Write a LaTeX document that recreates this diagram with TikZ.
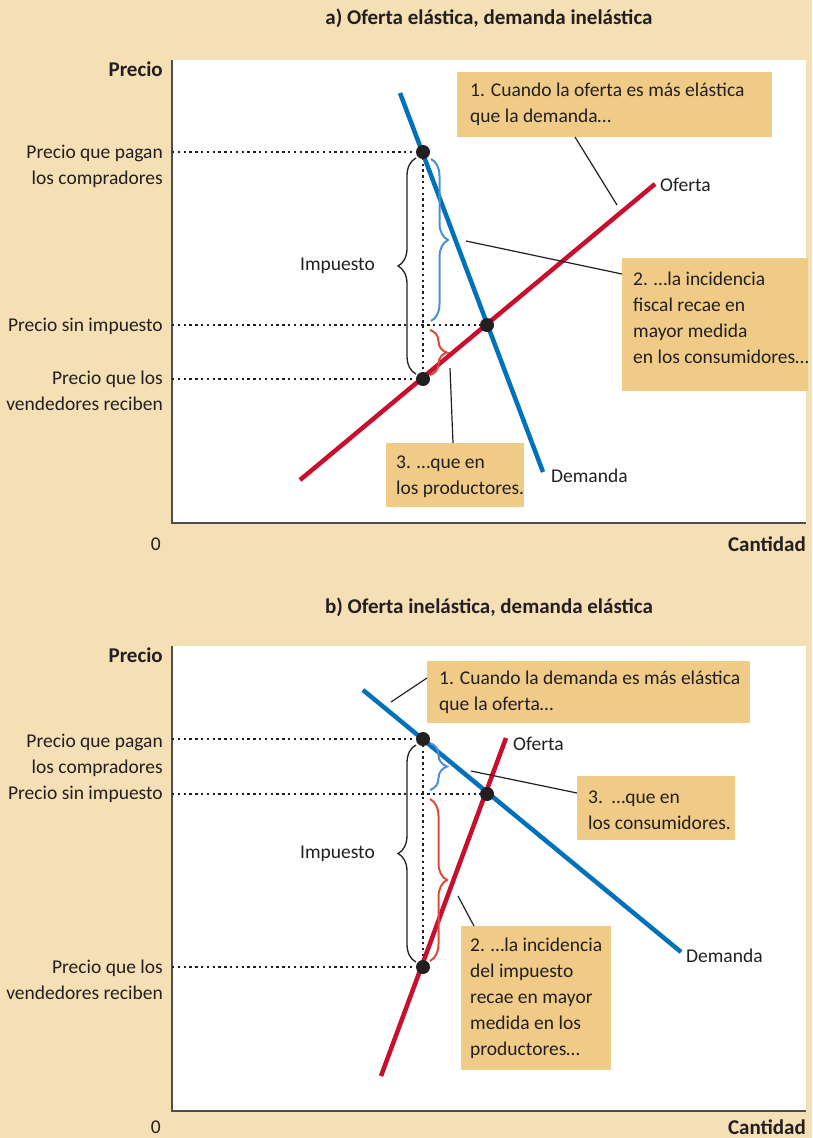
\documentclass[tikz,border=0pt]{standalone}
\usepackage{fontspec}
\setmainfont{Carlito}
\usetikzlibrary{decorations.pathreplacing}
\definecolor{bg}{HTML}{F5DFB5}
\definecolor{boxc}{HTML}{EFCB87}
\definecolor{dblue}{HTML}{0072BC}
\definecolor{dred}{HTML}{C8102E}
\definecolor{lblue}{HTML}{4D8FD1}
\definecolor{lred}{HTML}{DB4B3A}
\definecolor{txt}{HTML}{231F20}
\definecolor{axc}{HTML}{4D4D4D}
\begin{document}
\begin{tikzpicture}[x=1pt,y=-1pt,
  lbl/.style={font=\fontsize{19.5}{26}\selectfont, text=txt, inner sep=0pt},
  ttl/.style={font=\fontsize{21}{24}\selectfont\bfseries, text=txt, inner sep=0pt},
  boxs/.style={fill=boxc, draw=none, inner sep=0pt, anchor=north west},
  axis/.style={draw=axc, line width=2pt},
  dots/.style={line width=2.4pt, dash pattern=on 2.4pt off 3.4pt, txt},
  dem/.style={dblue, line width=4.5pt},
  sup/.style={dred, line width=4.5pt},
  leader/.style={txt, line width=1.2pt},
  bigbrace/.style={decorate, decoration={brace, amplitude=18pt}, txt, line width=1.3pt},
  bbrace/.style={decorate, decoration={brace, amplitude=17pt}, lblue, line width=2pt},
  rbrace/.style={decorate, decoration={brace, amplitude=17pt}, lred, line width=2pt},
  dot/.style={circle, fill=txt, inner sep=0pt, minimum size=14pt}
]
\fill[bg] (0,0) rectangle (812,1138);
\useasboundingbox (0,0) rectangle (812,1138);

% ================= Panel a =================
\node[ttl] (ta) at (489,18) {a) Oferta elástica, demanda inelástica};
\fill[white] (172,60) rectangle (806,523);
\coordinate (oa) at (172,523);
\coordinate (ya) at (172,60);
\coordinate (xa) at (806,523);
\draw[axis] (ya) -- (oa) -- (xa);
\node[ttl, anchor=east] (pa) at (163,69) {Precio};
\node[lbl, anchor=east] (za) at (161,544) {0};
\node[ttl, anchor=east] (ca) at (806,544) {Cantidad};

\coordinate (Ea1) at (423,152);
\coordinate (Ea2) at (487,325);
\coordinate (Ea3) at (423,379);
\coordinate (ha1) at (172,152);
\coordinate (ha2) at (172,325);
\coordinate (ha3) at (172,379);
\draw[dots] (ha1) -- (Ea1);
\draw[dots] (ha2) -- (Ea2);
\draw[dots] (ha3) -- (Ea3);
\draw[dots] (Ea1) -- (Ea3);

\node[lbl, anchor=east, align=right] (la1) at (163,166.5) {Precio que pagan\\los compradores};
\node[lbl, anchor=east] (la2) at (163,326) {Precio sin impuesto};
\node[lbl, anchor=east, align=right] (la3) at (163,391) {Precio que los\\vendedores reciben};

\coordinate (Da1) at (400,93);
\coordinate (Da2) at (543,472);
\coordinate (Sa1) at (300,480);
\coordinate (Sa2) at (655,184);
\draw[dem] (Da1) -- (Da2);
\draw[sup] (Sa1) -- (Sa2);
\node[dot] at (Ea1) {};
\node[dot] at (Ea2) {};
\node[dot] at (Ea3) {};

\coordinate (bka) at (416,374);
\coordinate (bkb) at (416,158);
\draw[bigbrace] (bka) -- (bkb);
\node[lbl, anchor=east] (ia) at (375,266) {Impuesto};
\coordinate (bba) at (431,159);
\coordinate (bbb) at (431,321);
\draw[bbrace] (bba) -- (bbb);
\coordinate (rba) at (430,330);
\coordinate (rbb) at (430,375);
\draw[rbrace] (rba) -- (rbb);

\node[lbl, anchor=west] (ofa) at (660,185) {Oferta};
\node[lbl, anchor=west] (dea) at (551,476) {Demanda};

\node[boxs, minimum width=315pt, minimum height=65pt] (c1a) at (457,72) {};
\node[lbl, anchor=west, align=left] (t1a) at (470,104.5) {1. Cuando la oferta es más elástica\\que la demanda…};
\node[boxs, minimum width=186pt, minimum height=133pt] (c2a) at (622,258) {};
\node[lbl, anchor=west, align=left] (t2a) at (633,318) {2. …la incidencia\\fiscal recae en\\mayor medida\\en los consumidores…};
\node[boxs, minimum width=138pt, minimum height=64pt] (c3a) at (386,443) {};
\node[lbl, anchor=west, align=left] (t3a) at (396,477) {3. …que en\\los productores.};

\coordinate (l1s) at (575,137);
\coordinate (l1e) at (617,205);
\draw[leader] (l1s) -- (l1e);
\coordinate (l2s) at (466,241);
\coordinate (l2e) at (622,274);
\draw[leader] (l2s) -- (l2e);
\coordinate (l3s) at (450,368);
\coordinate (l3e) at (453,443);
\draw[leader] (l3s) -- (l3e);

% ================= Panel b =================
\node[ttl] (tb) at (489,607) {b) Oferta inelástica, demanda elástica};
\fill[white] (172,646) rectangle (806,1111);
\coordinate (ob) at (172,1111);
\coordinate (yb) at (172,646);
\coordinate (xb) at (806,1111);
\draw[axis] (yb) -- (ob) -- (xb);
\node[ttl, anchor=east] (pb) at (163,655) {Precio};
\node[lbl, anchor=east] (zb) at (161,1127) {0};
\node[ttl, anchor=east] (cb) at (806,1127) {Cantidad};

\coordinate (Eb1) at (423,739);
\coordinate (Eb2) at (487,794);
\coordinate (Eb3) at (423,967);
\coordinate (hb1) at (172,739);
\coordinate (hb2) at (172,794);
\coordinate (hb3) at (172,967);
\draw[dots] (hb1) -- (Eb1);
\draw[dots] (hb2) -- (Eb2);
\draw[dots] (hb3) -- (Eb3);
\draw[dots] (Eb1) -- (Eb3);

\node[lbl, anchor=east, align=right] (lb1) at (163,755) {Precio que pagan\\los compradores};
\node[lbl, anchor=east] (lb2) at (163,794) {Precio sin impuesto};
\node[lbl, anchor=east, align=right] (lb3) at (163,980) {Precio que los\\vendedores reciben};

\coordinate (Db1) at (363,690);
\coordinate (Db2) at (681,952);
\coordinate (Sb1) at (381,1076);
\coordinate (Sb2) at (506,738);
\draw[dem] (Db1) -- (Db2);
\draw[sup] (Sb1) -- (Sb2);
\node[dot] at (Eb1) {};
\node[dot] at (Eb2) {};
\node[dot] at (Eb3) {};

\coordinate (bkc) at (416,962);
\coordinate (bkd) at (416,745);
\draw[bigbrace] (bkc) -- (bkd);
\node[lbl, anchor=east] (ib) at (375,854) {Impuesto};
\coordinate (bbc) at (430,743);
\coordinate (bbd) at (430,790);
\draw[bbrace] (bbc) -- (bbd);
\coordinate (rbc) at (430,799);
\coordinate (rbd) at (430,961);
\draw[rbrace] (rbc) -- (rbd);

\node[lbl, anchor=west] (ofb) at (513,744) {Oferta};
\node[lbl, anchor=west] (deb) at (686,956) {Demanda};

\node[boxs, minimum width=323pt, minimum height=62pt] (c1b) at (427,661) {};
\node[lbl, anchor=west, align=left] (t1b) at (439,692) {1. Cuando la demanda es más elástica\\que la oferta…};
\node[boxs, minimum width=158pt, minimum height=64pt] (c3b) at (577,776) {};
\node[lbl, anchor=west, align=left] (t3b) at (588,810) {3.\ \ …que en\\los consumidores.};
\node[boxs, minimum width=150pt, minimum height=144pt] (c2b) at (461,926) {};
\node[lbl, anchor=west, align=left] (t2b) at (470,998) {2. …la incidencia\\del impuesto\\recae en mayor\\medida en los\\productores…};

\coordinate (m1s) at (391,702);
\coordinate (m1e) at (427,678);
\draw[leader] (m1s) -- (m1e);
\coordinate (m3s) at (471,771);
\coordinate (m3e) at (577,793);
\draw[leader] (m3s) -- (m3e);
\coordinate (m2s) at (458,896);
\coordinate (m2e) at (474,926);
\draw[leader] (m2s) -- (m2e);
\end{tikzpicture}
\end{document}
